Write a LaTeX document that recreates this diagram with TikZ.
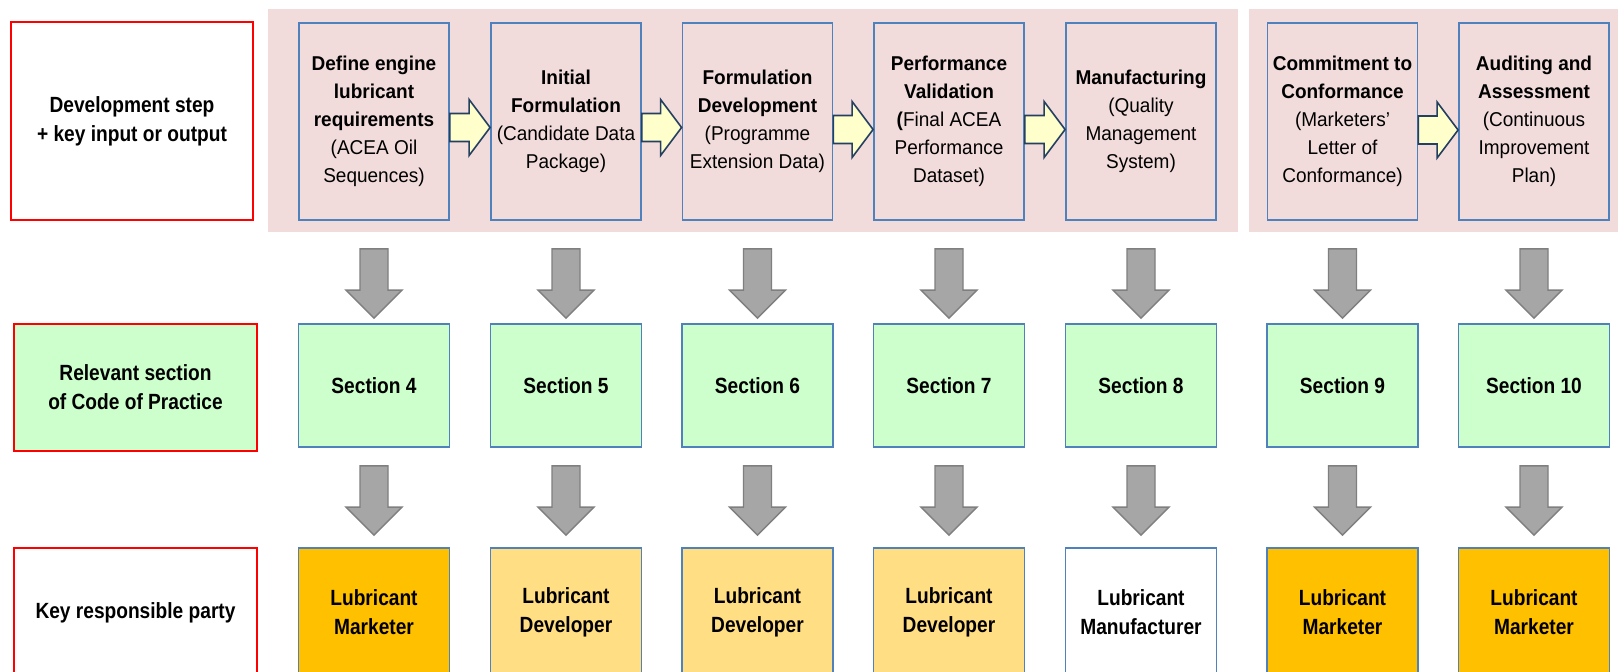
\documentclass[tikz,border=0pt]{standalone}
\usepackage{fontspec}
\setmainfont{Liberation Sans}[FakeStretch=0.95]
\newfontfamily\narrowf{Liberation Sans}[FakeStretch=0.87]
\usetikzlibrary{calc}
\definecolor{pinkbg}{HTML}{F2DCDB}
\definecolor{boxblue}{HTML}{4F81BD}
\definecolor{secgreen}{HTML}{CCFFCC}
\definecolor{orangeA}{HTML}{FFC000}
\definecolor{orangeB}{HTML}{FFDE84}
\definecolor{yfill}{HTML}{FFFFCC}
\definecolor{yedge}{HTML}{243F60}
\definecolor{gfill}{HTML}{A6A6A6}
\definecolor{gedge}{HTML}{7F7F7F}
\newcommand\yarrow[3]{%
  \draw[yarr] ($(#1.east)+(0,#3-14)$) -- ($(#2.west)+(-21,#3-14)$) -- ($(#2.west)+(-21,#3-28)$)
    -- ($(#2.west)+(0,#3)$) -- ($(#2.west)+(-21,#3+28)$) -- ($(#2.west)+(-21,#3+14)$)
    -- ($(#1.east)+(0,#3+14)$) -- cycle;}
\newcommand\garrow[4]{%
  \draw[garr] ($(#1.south)+(-14,#3)$) -- ($(#2.north)+(-14,-#4-28)$) -- ($(#2.north)+(-28,-#4-28)$)
    -- ($(#2.north)+(0,-#4)$) -- ($(#2.north)+(28,-#4-28)$) -- ($(#2.north)+(14,-#4-28)$)
    -- ($(#1.south)+(14,#3)$) -- cycle;}
\begin{document}
\begin{tikzpicture}[x=0.5pt,y=-0.5pt,
  labelbox/.style={draw=red, line width=1pt, align=center, inner sep=0pt,
    font=\narrowf\bfseries\fontsize{11}{14.5}\selectfont},
  stepbox/.style={draw=boxblue, fill=pinkbg, line width=0.9pt, minimum width=75pt,
    minimum height=98.5pt, inner sep=0pt, align=center, font=\fontsize{10}{14}\selectfont},
  secbox/.style={draw=boxblue, fill=secgreen, line width=0.9pt, minimum width=75.5pt,
    minimum height=61.5pt, inner sep=0pt, align=center, font=\narrowf\bfseries\fontsize{11}{14.5}\selectfont},
  partybox/.style={draw=boxblue, line width=0.9pt, minimum width=75.5pt,
    minimum height=64.5pt, inner sep=0pt, align=center, font=\narrowf\bfseries\fontsize{11}{14.5}\selectfont},
  yarr/.style={fill=yfill, draw=yedge, line width=0.8pt, line join=miter},
  garr/.style={fill=gfill, draw=gedge, line width=0.7pt, line join=miter}]
\useasboundingbox (0,0) rectangle (1618,671);
\clip (0,0) rectangle (1618,671);
\fill[white] (0,0) rectangle (1618,671);
% pink backgrounds
\fill[pinkbg] (268,9) rectangle (1238,232);
\fill[pinkbg] (1249,9) rectangle (1620,232);
% row labels
\node[labelbox, fill=white, minimum width=121pt, minimum height=99pt] (l1) at (132,121)
  {Development step\\+ key input or output};
\node[labelbox, fill=secgreen, minimum width=121.5pt, minimum height=63.5pt] (l2) at (135.5,387.5)
  {Relevant section\\of Code of Practice};
\node[labelbox, fill=white, minimum width=121.5pt, minimum height=64.5pt] (l3) at (135.5,612.5)
  {Key responsible party};
% top row
\node[stepbox] (s1) at (374,121.5) {\textbf{Define engine}\\\textbf{lubricant}\\\textbf{requirements}\\(ACEA Oil\\Sequences)};
\node[stepbox] (s2) at (566,121.5) {\textbf{Initial}\\\textbf{Formulation}\\(Candidate Data\\Package)};
\node[stepbox] (s3) at (757.5,121.5) {\textbf{Formulation}\\\textbf{Development}\\(Programme\\Extension Data)};
\node[stepbox] (s4) at (949,121.5) {\textbf{Performance}\\\textbf{Validation}\\\textbf{(}Final ACEA\\Performance\\Dataset)};
\node[stepbox] (s5) at (1141,121.5) {\textbf{Manufacturing}\\(Quality\\Management\\System)};
\node[stepbox] (s6) at (1342.5,121.5) {\textbf{Commitment to}\\\textbf{Conformance}\\(Marketers’\\Letter of\\Conformance)};
\node[stepbox] (s7) at (1534,121.5) {\textbf{Auditing and}\\\textbf{Assessment}\\(Continuous\\Improvement\\Plan)};
% middle row
\node[secbox] (c1) at (374,385.5) {Section 4};
\node[secbox] (c2) at (566,385.5) {Section 5};
\node[secbox] (c3) at (757.5,385.5) {Section 6};
\node[secbox] (c4) at (949,385.5) {Section 7};
\node[secbox] (c5) at (1141,385.5) {Section 8};
\node[secbox] (c6) at (1342.5,385.5) {Section 9};
\node[secbox] (c7) at (1534,385.5) {Section 10};
% bottom row
\node[partybox, fill=orangeA] (p1) at (374,612.5) {Lubricant\\Marketer};
\node[partybox, fill=orangeB] (p2) at (566,612.5) {Lubricant\\Developer};
\node[partybox, fill=orangeB] (p3) at (757.5,612.5) {Lubricant\\Developer};
\node[partybox, fill=orangeB] (p4) at (949,612.5) {Lubricant\\Developer};
\node[partybox, fill=white] (p5) at (1141,612.5) {Lubricant\\Manufacturer};
\node[partybox, fill=orangeA] (p6) at (1342.5,612.5) {Lubricant\\Marketer};
\node[partybox, fill=orangeA] (p7) at (1534,612.5) {Lubricant\\Marketer};
% yellow arrows
\yarrow{s1}{s2}{6}
\yarrow{s2}{s3}{6}
\yarrow{s3}{s4}{8}
\yarrow{s4}{s5}{8}
\yarrow{s6}{s7}{8.5}
% gray arrows
\foreach \i in {1,...,7}{
  \garrow{s\i}{c\i}{28}{5}
  \garrow{c\i}{p\i}{18}{12}
}
\end{tikzpicture}
\end{document}
